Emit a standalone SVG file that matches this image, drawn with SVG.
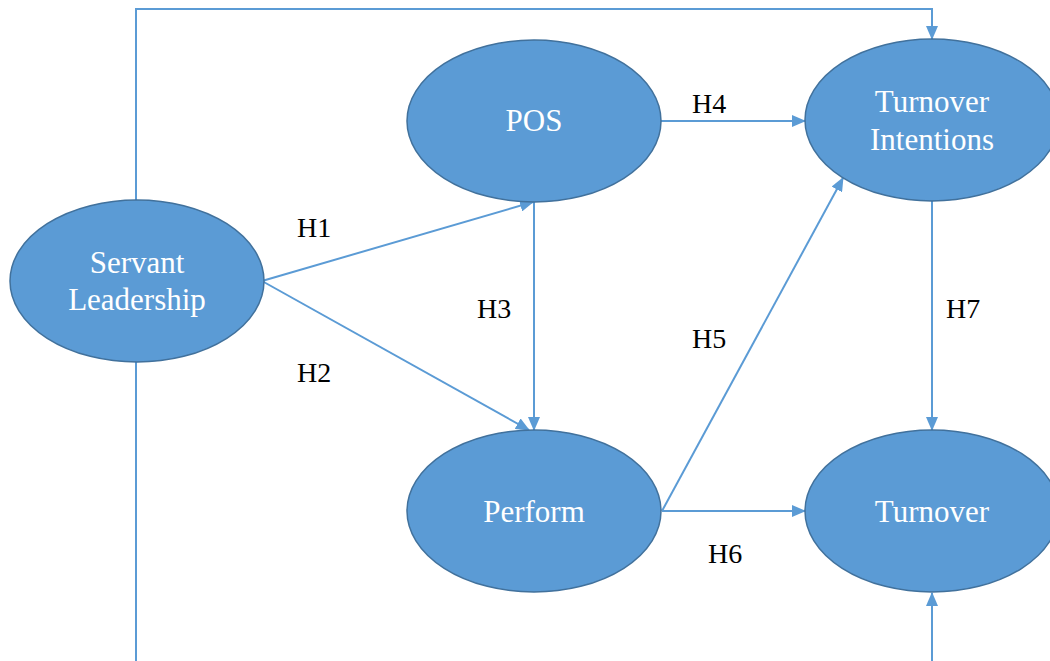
<svg xmlns="http://www.w3.org/2000/svg" width="1050" height="661" viewBox="0 0 1050 661">
  <style>
    .node ellipse { fill: #5b9bd5; stroke: #41719c; stroke-width: 1.5; }
    .node text { fill: #ffffff; font-family: "Liberation Serif", "Times New Roman", serif; font-size: 31px; text-anchor: middle; }
    .conn line, .conn polyline { stroke: #5b9bd5; stroke-width: 2; fill: none; }
    .lbl { fill: #000000; font-family: "Liberation Serif", "Times New Roman", serif; font-size: 28px; }
  </style>
  <defs>
    <marker id="arr" markerUnits="userSpaceOnUse" markerWidth="14" markerHeight="12" refX="13" refY="6" orient="auto">
      <path d="M0,0 L14,6 L0,12 Z" fill="#5b9bd5"/>
    </marker>
  </defs>
  <rect width="1050" height="661" fill="#ffffff"/>
  <g id="connectors" class="conn">
    <polyline points="136,200 136,9 932,9 932,39" marker-end="url(#arr)"/>
    <line x1="136" y1="362" x2="136" y2="661"/>
    <line x1="932" y1="661" x2="932" y2="593" marker-end="url(#arr)"/>
    <line x1="262" y1="281" x2="533" y2="202" marker-end="url(#arr)"/>
    <line x1="262" y1="281" x2="529" y2="430" marker-end="url(#arr)"/>
    <line x1="534" y1="202" x2="534" y2="430" marker-end="url(#arr)"/>
    <line x1="661" y1="121" x2="805" y2="121" marker-end="url(#arr)"/>
    <line x1="662" y1="511" x2="843" y2="178" marker-end="url(#arr)"/>
    <line x1="662" y1="511" x2="805" y2="511" marker-end="url(#arr)"/>
    <line x1="932" y1="201" x2="932" y2="430" marker-end="url(#arr)"/>
  </g>
  <g id="labels">
    <text class="lbl" x="297" y="237">H1</text>
    <text class="lbl" x="297" y="382">H2</text>
    <text class="lbl" x="477" y="318">H3</text>
    <text class="lbl" x="692" y="113">H4</text>
    <text class="lbl" x="692" y="348">H5</text>
    <text class="lbl" x="708" y="563">H6</text>
    <text class="lbl" x="946" y="318">H7</text>
  </g>
  <g id="servant-leadership" class="node">
    <ellipse cx="137" cy="281" rx="127" ry="81"/>
    <text x="137" y="273">Servant</text>
    <text x="137" y="310">Leadership</text>
  </g>
  <g id="pos" class="node">
    <ellipse cx="534" cy="121" rx="127" ry="81"/>
    <text x="534" y="131">POS</text>
  </g>
  <g id="perform" class="node">
    <ellipse cx="534" cy="511" rx="127" ry="81"/>
    <text x="534" y="522">Perform</text>
  </g>
  <g id="turnover-intentions" class="node">
    <ellipse cx="932" cy="120" rx="127" ry="81"/>
    <text x="932" y="112">Turnover</text>
    <text x="932" y="150">Intentions</text>
  </g>
  <g id="turnover" class="node">
    <ellipse cx="932" cy="511" rx="127" ry="81"/>
    <text x="932" y="522">Turnover</text>
  </g>
</svg>
